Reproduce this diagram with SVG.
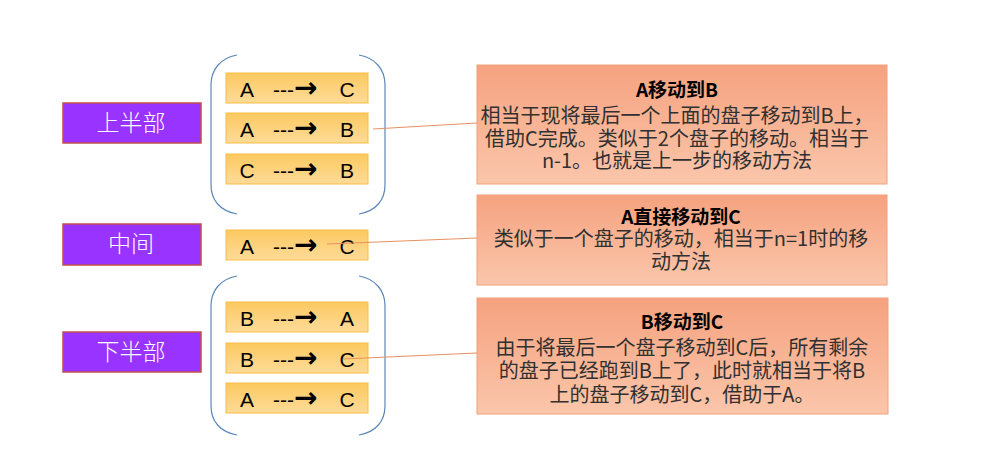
<svg xmlns="http://www.w3.org/2000/svg" width="981" height="469" viewBox="0 0 981 469">
<defs>
<linearGradient id="gOr" x1="0" y1="0" x2="0" y2="1">
<stop offset="0" stop-color="#f5a27f"/>
<stop offset="1" stop-color="#fbc6ab"/>
</linearGradient>
<linearGradient id="gYe" x1="0" y1="0" x2="0" y2="1">
<stop offset="0" stop-color="#fcc960"/>
<stop offset="1" stop-color="#fddb98"/>
</linearGradient>
<style>
.pur{fill:#9933ff;stroke:#c0504d;stroke-width:1.5}
.ptx{fill:#ffffff;font-family:"Noto Sans CJK SC",sans-serif;font-size:23px;font-weight:300;text-anchor:middle}
.yel{fill:url(#gYe);stroke:#f8bd45;stroke-width:1}
.ytx{fill:#000;font-family:"Liberation Sans",Arial,sans-serif;font-size:21px;text-anchor:middle}
.dash{fill:#000;font-family:"Liberation Sans",Arial,sans-serif;font-size:21px}
.arr{font-family:"DejaVu Sans",sans-serif;font-weight:bold;font-size:28px}
.org{fill:url(#gOr);stroke:#f0a27a;stroke-width:1}
.ttl{fill:#000;font-family:"Noto Sans CJK SC",sans-serif;font-size:19px;font-weight:bold;text-anchor:middle}
.btx{fill:#303030;font-family:"Noto Sans CJK SC",sans-serif;font-size:20px;text-anchor:middle}
.brace{fill:none;stroke:#5b86b8;stroke-width:1.2}
.conn{fill:none;stroke:#e8915f;stroke-width:1}
</style>
</defs>
<rect width="981" height="469" fill="#ffffff"/>

<g id="braces">
<path class="brace" d="M237 55 C220 58 211 70 211 85 L211 185 C211 200 220 211 237 214"/>
<path class="brace" d="M359 55 C376 58 385 70 385 85 L385 185 C385 200 376 211 359 214"/>
<path class="brace" d="M237 276 C220 279 211 291 211 306 L211 406 C211 421 220 432 237 435"/>
<path class="brace" d="M359 276 C376 279 385 291 385 306 L385 406 C385 421 376 432 359 435"/>
</g>

<g id="label-top">
<rect class="pur" x="63" y="103" width="138" height="40"/>
<text class="ptx" x="131" y="131">上半部</text>
</g>
<g id="label-mid">
<rect class="pur" x="63" y="224" width="138" height="41"/>
<text class="ptx" x="131" y="252">中间</text>
</g>
<g id="label-bot">
<rect class="pur" x="63" y="332" width="138" height="40"/>
<text class="ptx" x="131" y="360">下半部</text>
</g>

<g id="step1">
<rect class="yel" x="226" y="73" width="142" height="30"/>
<text class="ytx" x="247" y="97">A</text>
<text class="dash" x="273" y="97">---<tspan class="arr">→</tspan></text>
<text class="ytx" x="347" y="97">C</text>
</g>
<g id="step2">
<rect class="yel" x="226" y="113" width="142" height="30"/>
<text class="ytx" x="247" y="137">A</text>
<text class="dash" x="273" y="137">---<tspan class="arr">→</tspan></text>
<text class="ytx" x="347" y="137">B</text>
</g>
<g id="step3">
<rect class="yel" x="226" y="154" width="142" height="30"/>
<text class="ytx" x="247" y="178">C</text>
<text class="dash" x="273" y="178">---<tspan class="arr">→</tspan></text>
<text class="ytx" x="347" y="178">B</text>
</g>
<g id="step4">
<rect class="yel" x="226" y="230" width="142" height="30"/>
<text class="ytx" x="247" y="254">A</text>
<text class="dash" x="273" y="254">---<tspan class="arr">→</tspan></text>
<text class="ytx" x="347" y="254">C</text>
</g>
<g id="step5">
<rect class="yel" x="226" y="302" width="142" height="30"/>
<text class="ytx" x="247" y="326">B</text>
<text class="dash" x="273" y="326">---<tspan class="arr">→</tspan></text>
<text class="ytx" x="347" y="326">A</text>
</g>
<g id="step6">
<rect class="yel" x="226" y="343" width="142" height="30"/>
<text class="ytx" x="247" y="367">B</text>
<text class="dash" x="273" y="367">---<tspan class="arr">→</tspan></text>
<text class="ytx" x="347" y="367">C</text>
</g>
<g id="step7">
<rect class="yel" x="226" y="383" width="142" height="30"/>
<text class="ytx" x="247" y="407">A</text>
<text class="dash" x="273" y="407">---<tspan class="arr">→</tspan></text>
<text class="ytx" x="347" y="407">C</text>
</g>

<g id="note1">
<rect class="org" x="477" y="65" width="410" height="119"/>
<text class="ttl" x="677" y="97">A移动到B</text>
<text class="btx" x="677" y="123">相当于现将最后一个上面的盘子移动到B上，</text>
<text class="btx" x="677" y="146">借助C完成。类似于2个盘子的移动。相当于</text>
<text class="btx" x="677" y="168">n-1。也就是上一步的移动方法</text>
</g>
<g id="note2">
<rect class="org" x="477" y="195" width="410" height="90"/>
<text class="ttl" x="681" y="224">A直接移动到C</text>
<text class="btx" x="681" y="246">类似于一个盘子的移动，相当于n=1时的移</text>
<text class="btx" x="681" y="269">动方法</text>
</g>
<g id="note3">
<rect class="org" x="477" y="298" width="411" height="116"/>
<text class="ttl" x="682" y="329">B移动到C</text>
<text class="btx" x="682" y="355">由于将最后一个盘子移动到C后，所有剩余</text>
<text class="btx" x="682" y="378">的盘子已经跑到B上了，此时就相当于将B</text>
<text class="btx" x="682" y="402">上的盘子移动到C，借助于A。</text>
</g>

<g id="connectors">
<line class="conn" x1="373" y1="129" x2="477" y2="123"/>
<line class="conn" x1="327" y1="244" x2="477" y2="238"/>
<line class="conn" x1="343" y1="359" x2="477" y2="353"/>
</g>
</svg>
